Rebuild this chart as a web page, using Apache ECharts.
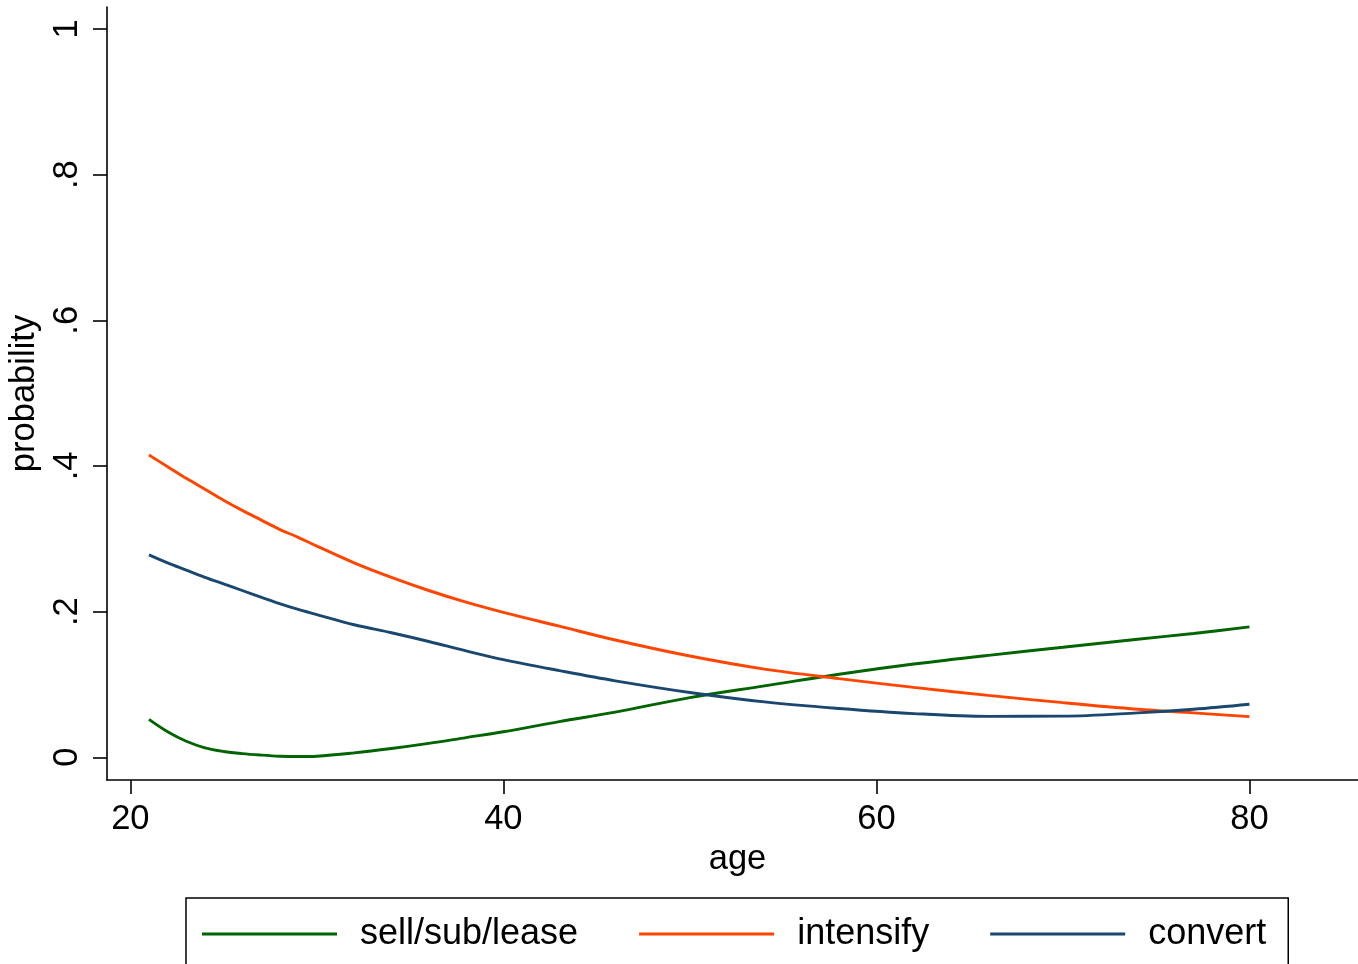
<!DOCTYPE html>
<html>
<head>
<meta charset="utf-8">
<script src="https://cdn.jsdelivr.net/npm/echarts@6/dist/echarts.min.js"></script>
<style>
html,body{margin:0;padding:0;background:#fff;}
#chart{width:1358px;height:964px;}
</style>
</head>
<body>
<div id="chart"></div>
<script>
const ages = [21,22,23,24,25,26,27,28,29,30,32,34,36,38,40,43,46,50,54,58,62,66,70,74,77,80];
const sellSubLease = [0.052,0.035,0.022,0.013,0.008,0.005,0.003,0.0015,0.001,0.0015,0.006,0.012,0.019,0.027,0.035,0.049,0.062,0.082,0.098,0.114,0.128,0.140,0.151,0.162,0.170,0.179];
const intensify = [0.415,0.399,0.383,0.368,0.353,0.339,0.326,0.313,0.302,0.290,0.267,0.247,0.229,0.213,0.199,0.180,0.161,0.139,0.121,0.108,0.096,0.085,0.075,0.066,0.061,0.0558];
const convert = [0.278,0.267,0.257,0.247,0.238,0.229,0.220,0.211,0.203,0.196,0.182,0.171,0.159,0.146,0.134,0.119,0.105,0.089,0.076,0.067,0.060,0.0562,0.0565,0.061,0.066,0.0729];
const xTicks = [20,40,60,80];
const yTicks = [0,0.2,0.4,0.6,0.8,1];
const yTickLabels = ['0','.2','.4','.6','.8','1'];
const seriesNames = ['sell/sub/lease','intensify','convert'];
const colors = ['#006400','#ff4500','#1a476f'];

const pair = arr => ages.map((a,i)=>[a,arr[i]]);
const FONT = 'Liberation Sans';

const chart = echarts.init(document.getElementById('chart'), null, {renderer:'canvas'});
chart.setOption({
  backgroundColor:'#fff',
  animation:false,
  grid:{left:107,right:0,top:7,bottom:184,containLabel:false,outerBoundsMode:'none'},
  xAxis:{
    type:'value',min:18.75,max:85.82,
    name:'age',nameLocation:'middle',nameGap:62,
    nameTextStyle:{fontFamily:FONT,fontSize:34.5,color:'#000',padding:[0,0,0,10]},
    axisLine:{onZero:false,lineStyle:{color:'#000',width:1.6}},
    axisTick:{show:true,length:14,customValues:xTicks,lineStyle:{color:'#000',width:1.6}},
    axisLabel:{customValues:xTicks,margin:22,fontFamily:FONT,fontSize:34.5,color:'#000'},
    splitLine:{show:false}
  },
  yAxis:{
    type:'value',min:-0.0312,max:1.0302,
    name:'probability',nameLocation:'middle',nameGap:62,nameRotate:90,
    nameTextStyle:{fontFamily:FONT,fontSize:34.5,color:'#000'},
    axisLine:{onZero:false,lineStyle:{color:'#000',width:1.6}},
    axisTick:{show:true,length:14,customValues:yTicks,lineStyle:{color:'#000',width:1.6}},
    axisLabel:{customValues:yTicks,rotate:90,margin:22,fontFamily:FONT,fontSize:34.5,color:'#000',
      formatter:v=>{const i=yTicks.findIndex(t=>Math.abs(t-v)<1e-9);return i>=0?yTickLabels[i]:'';}},
    splitLine:{show:false}
  },
  legend:{
    show:true,left:186,top:898,orient:'horizontal',
    data:seriesNames,
    icon:'rect',itemWidth:135,itemHeight:3,itemGap:61,
    padding:[16,22,30,16],
    borderColor:'#000',borderWidth:1.5,backgroundColor:'#fff',
    textStyle:{fontFamily:FONT,fontSize:36,color:'#000',lineHeight:40,padding:[0,0,0,18]}
  },
  series:seriesNames.map((n,k)=>({
    name:n,type:'line',showSymbol:false,symbol:'none',smooth:0.35,
    color:colors[k],
    lineStyle:{color:colors[k],width:2.9},
    data:pair([sellSubLease,intensify,convert][k])
  }))
});
</script>
</body>
</html>
